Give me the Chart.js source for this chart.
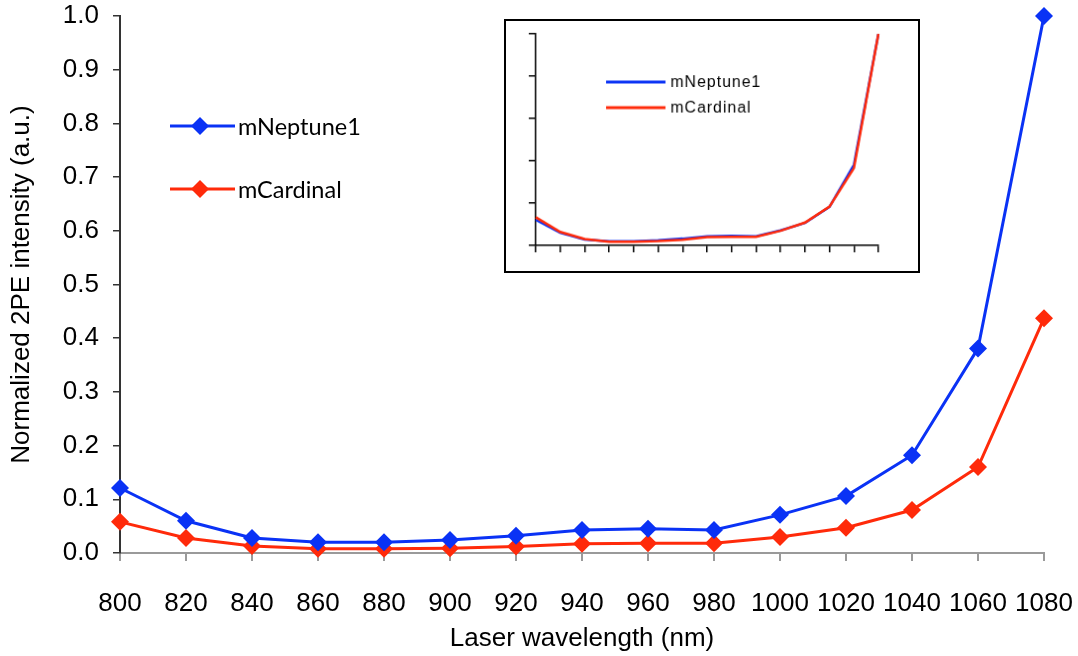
<!DOCTYPE html>
<html><head><meta charset="utf-8">
<script src="https://cdn.jsdelivr.net/npm/chart.js@4.4.1/dist/chart.umd.min.js"></script>
<style>
html,body{margin:0;padding:0;background:#fff;}
#wrap{position:relative;width:1078px;height:656px;}
#main{position:absolute;left:0;top:0;}
#inset{position:absolute;left:504px;top:19px;border:2px solid #000;background:#fff;}
</style></head><body>
<div id="wrap"><canvas id="main" width="1078" height="656"></canvas><canvas id="inset" width="416" height="254"></canvas></div>
<script>
const wavelengths = ['800','820','840','860','880','900','920','940','960','980','1000','1020','1040','1060','1080'];
const mNeptune1 = [0.121,0.060,0.028,0.020,0.020,0.024,0.032,0.043,0.045,0.043,0.071,0.106,0.182,0.381,1.000];
const mCardinal = [0.058,0.028,0.013,0.008,0.008,0.009,0.012,0.017,0.018,0.018,0.030,0.047,0.080,0.160,0.437];
// inset: each series normalized to its own maximum
const insetNeptune1 = [0.121,0.060,0.028,0.020,0.020,0.024,0.032,0.043,0.045,0.043,0.071,0.106,0.182,0.381,1.000];
const insetCardinal = [0.133,0.064,0.030,0.018,0.018,0.021,0.027,0.039,0.041,0.041,0.069,0.108,0.183,0.366,1.000];
const yTicks = [0,0.1,0.2,0.3,0.4,0.5,0.6,0.7,0.8,0.9,1.0];
const insetYTicks = [0,0.2,0.4,0.6,0.8,1.0];

const BLUE = '#0a32f5', RED = '#ff2a0a';
const FONT = '"Liberation Sans", Arial, sans-serif';

const mainLegend = {
  id: 'mainLegend',
  afterDraw(chart) {
    const ctx = chart.ctx;
    const ys = [126, 189];
    chart.data.datasets.forEach((ds, i) => {
      const y = ys[i];
      ctx.save();
      ctx.strokeStyle = ds.borderColor; ctx.lineWidth = 3;
      ctx.beginPath(); ctx.moveTo(170, y); ctx.lineTo(235, y); ctx.stroke();
      ctx.fillStyle = ds.backgroundColor;
      ctx.beginPath(); ctx.moveTo(200, y - 9); ctx.lineTo(209, y); ctx.lineTo(200, y + 9); ctx.lineTo(191, y); ctx.closePath(); ctx.fill();
      ctx.fillStyle = '#000'; ctx.font = '23.5px Lato, "Open Sans", sans-serif';
      ctx.textBaseline = 'middle'; ctx.textAlign = 'left';
      ctx.fillText(ds.label, 238, y + 1);
      ctx.restore();
    });
  }
};

new Chart(document.getElementById('main'), {
  type: 'line',
  data: {
    labels: wavelengths,
    datasets: [
      {label: 'mNeptune1', data: mNeptune1, borderColor: BLUE, backgroundColor: BLUE, borderWidth: 3, pointStyle: 'rectRot', pointRadius: 9, pointBorderWidth: 0, tension: 0, clip: false},
      {label: 'mCardinal', data: mCardinal, borderColor: RED, backgroundColor: RED, borderWidth: 3, pointStyle: 'rectRot', pointRadius: 9, pointBorderWidth: 0, tension: 0, clip: false}
    ]
  },
  options: {
    responsive: false, animation: false, devicePixelRatio: 1,
    layout: {padding: {left: 0, top: 16, right: 34, bottom: 0}},
    plugins: {legend: {display: false}, tooltip: {enabled: false}},
    scales: {
      x: {
        offset: false,
        afterFit(s) { s.height = 103; s.paddingLeft = 0; s.paddingRight = 0; },
        border: {color: '#9a9a9a', width: 2},
        grid: {drawOnChartArea: false, color: '#9a9a9a', tickLength: 8, lineWidth: 2},
        ticks: {color: '#000', font: {family: FONT, size: 26}, padding: 27, maxRotation: 0, autoSkip: false},
        title: {display: true, text: 'Laser wavelength (nm)', color: '#000', font: {family: FONT, size: 26}, padding: {top: 0, bottom: 1.5}}
      },
      y: {
        min: 0, max: 1,
        afterFit(s) { s.width = 120; s.paddingTop = 0; s.paddingBottom = 0; },
        afterBuildTicks(s) { s.ticks = yTicks.map(v => ({value: v})); },
        border: {color: '#333', width: 2},
        grid: {drawOnChartArea: false, color: '#333', tickLength: 7, lineWidth: 1.5},
        ticks: {color: '#000', font: {family: FONT, size: 26}, padding: 14, callback: v => Number(v).toFixed(1)},
        title: {display: true, text: 'Normalized 2PE intensity (a.u.)', color: '#000', font: {family: FONT, size: 26}, padding: {top: 6.4, bottom: 0}}
      }
    }
  },
  plugins: [mainLegend]
});

const insetLegend = {
  id: 'insetLegend',
  afterDraw(chart) {
    const ctx = chart.ctx;
    const ys = [62, 88];
    chart.data.datasets.forEach((ds, i) => {
      const y = ys[i];
      ctx.save();
      ctx.strokeStyle = ds.borderColor; ctx.lineWidth = 3;
      ctx.beginPath(); ctx.moveTo(101, y); ctx.lineTo(161, y); ctx.stroke();
      ctx.fillStyle = '#000'; ctx.font = '16px ' + FONT;
      if ('letterSpacing' in ctx) ctx.letterSpacing = '1px';
      ctx.textBaseline = 'middle'; ctx.textAlign = 'left';
      ctx.fillText(ds.label, 166, y + 1);
      ctx.restore();
    });
  }
};

new Chart(document.getElementById('inset'), {
  type: 'line',
  data: {
    labels: wavelengths,
    datasets: [
      {label: 'mNeptune1', data: insetNeptune1, borderColor: BLUE, borderWidth: 2.5, pointRadius: 0, tension: 0, order: 1},
      {label: 'mCardinal', data: insetCardinal, borderColor: RED, borderWidth: 2.5, pointRadius: 0, tension: 0, order: 0}
    ]
  },
  options: {
    responsive: false, animation: false, devicePixelRatio: 1,
    layout: {padding: {left: 0, top: 13, right: 40, bottom: 0}},
    plugins: {legend: {display: false}, tooltip: {enabled: false}},
    scales: {
      x: {
        offset: false,
        afterFit(s) { s.height = 26; },
        border: {color: '#000', width: 1.5},
        grid: {drawOnChartArea: false, color: '#000', tickLength: 7, lineWidth: 1.5},
        ticks: {display: false, autoSkip: false}
      },
      y: {
        min: 0, max: 1,
        afterFit(s) { s.width = 30; },
        afterBuildTicks(s) { s.ticks = insetYTicks.map(v => ({value: v})); },
        border: {color: '#000', width: 1.5},
        grid: {drawOnChartArea: false, color: '#000', tickLength: 7, lineWidth: 1.5},
        ticks: {display: false}
      }
    }
  },
  plugins: [insetLegend]
});
</script>
</body></html>
